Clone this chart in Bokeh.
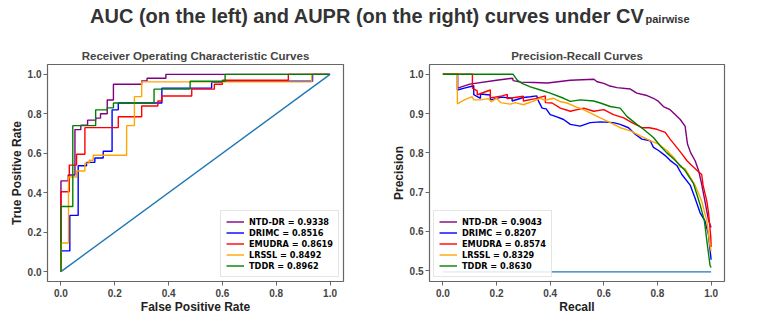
from bokeh.plotting import figure
from bokeh.models import (Legend, LegendItem, Range1d, FixedTicker,
                          PrintfTickFormatter, Label)
from bokeh.layouts import column, row
from bokeh.embed import file_html
from bokeh.resources import INLINE

# ---------------- data ----------------
methods = ["NTD-DR", "DRIMC", "EMUDRA", "LRSSL", "TDDR"]
colors = ["purple", "blue", "red", "orange", "green"]
roc_auc = ["0.9338", "0.8516", "0.8619", "0.8492", "0.8962"]
pr_aupr = ["0.9043", "0.8207", "0.8574", "0.8329", "0.8630"]

ticks_01 = [0.0, 0.2, 0.4, 0.6, 0.8, 1.0]
ticks_prec = [0.5, 0.6, 0.7, 0.8, 0.9, 1.0]

# ROC curves (step vertices)
fpr_ntddr = [0, 0, 0.027, 0.027, 0.052, 0.052, 0.074, 0.074, 0.099, 0.099, 0.129, 0.129,
             0.147, 0.147, 0.172, 0.172, 0.195, 0.195, 0.30, 0.30, 0.32, 0.32, 0.39, 0.39, 1.0]
tpr_ntddr = [0, 0.46, 0.46, 0.49, 0.49, 0.72, 0.72, 0.742, 0.742, 0.768, 0.768, 0.778,
             0.778, 0.80, 0.80, 0.87, 0.87, 0.95, 0.95, 0.967, 0.967, 0.98, 0.98, 1.0, 1.0]

fpr_drimc = [0, 0, 0.033, 0.033, 0.064, 0.064, 0.095, 0.095, 0.126, 0.126, 0.157, 0.157,
             0.19, 0.19, 0.213, 0.213, 0.375, 0.375, 0.56, 0.56, 0.60, 0.60, 0.935, 0.935, 1.0]
tpr_drimc = [0, 0.105, 0.105, 0.285, 0.285, 0.537, 0.537, 0.554, 0.554, 0.576, 0.576, 0.61,
             0.61, 0.82, 0.82, 0.855, 0.855, 0.93, 0.93, 0.96, 0.96, 0.965, 0.965, 1.0, 1.0]

fpr_emudra = [0, 0, 0.031, 0.031, 0.058, 0.058, 0.089, 0.089, 0.213, 0.213, 0.30, 0.30,
              0.36, 0.36, 0.375, 0.375, 0.486, 0.486, 0.57, 0.57, 0.60, 0.60, 0.845, 0.845, 1.0]
tpr_emudra = [0, 0.405, 0.405, 0.54, 0.54, 0.595, 0.595, 0.73, 0.73, 0.785, 0.785, 0.84,
              0.84, 0.865, 0.865, 0.89, 0.89, 0.925, 0.925, 0.95, 0.95, 0.97, 0.97, 1.0, 1.0]

fpr_lrssl = [0, 0, 0.028, 0.028, 0.058, 0.058, 0.089, 0.089, 0.105, 0.105, 0.12, 0.12,
             0.244, 0.244, 0.273, 0.273, 0.30, 0.30, 0.932, 0.932, 1.0]
tpr_lrssl = [0, 0.145, 0.145, 0.48, 0.48, 0.51, 0.51, 0.55, 0.55, 0.565, 0.565, 0.59,
             0.59, 0.74, 0.74, 0.887, 0.887, 0.962, 0.962, 1.0, 1.0]

fpr_tddr = [0, 0, 0.044, 0.044, 0.129, 0.129, 0.172, 0.172, 0.195, 0.195, 0.346, 0.346,
            0.48, 0.48, 0.61, 0.61, 1.0]
tpr_tddr = [0, 0.33, 0.33, 0.74, 0.74, 0.82, 0.82, 0.83, 0.83, 0.855, 0.855, 0.925,
            0.925, 0.965, 0.965, 1.0, 1.0]

diag_x = [0, 1]
diag_y = [0, 1]

# Precision-recall curves
rec_ntddr = [0, 0.055, 0.055, 0.10, 0.20, 0.26, 0.262, 0.29, 0.34, 0.39, 0.475, 0.563, 0.575,
             0.600, 0.619, 0.649, 0.699, 0.723, 0.761, 0.785, 0.804, 0.822, 0.847, 0.866,
             0.885, 0.903, 0.912, 0.924, 0.9405, 0.953, 0.965, 0.977, 0.99, 1.0]
prec_ntddr = [1.0, 1.0, 0.965, 0.975, 0.985, 0.99, 0.984, 0.98, 0.979, 0.978, 0.985, 0.9875,
              0.981, 0.977, 0.971, 0.966, 0.9625, 0.952, 0.946, 0.939, 0.931, 0.918, 0.91,
              0.8975, 0.885, 0.868, 0.8225, 0.80, 0.78, 0.756, 0.72, 0.677, 0.63, 0.61]

rec_drimc = [0, 0.054, 0.054, 0.08, 0.115, 0.115, 0.14, 0.14, 0.177, 0.177, 0.22, 0.258,
             0.258, 0.30, 0.326, 0.35, 0.357, 0.37, 0.385, 0.40, 0.42, 0.45, 0.475, 0.512,
             0.549, 0.587, 0.636, 0.661, 0.692, 0.717, 0.742, 0.773, 0.785, 0.804, 0.829,
             0.847, 0.872, 0.891, 0.922, 0.94, 0.959, 0.977, 0.99, 0.999, 1.0]
prec_drimc = [1.0, 1.0, 0.96, 0.965, 0.971, 0.948, 0.939, 0.95, 0.9475, 0.935, 0.942, 0.939,
              0.932, 0.941, 0.943, 0.945, 0.931, 0.914, 0.912, 0.8975, 0.893, 0.885, 0.8725,
              0.868, 0.877, 0.879, 0.877, 0.8725, 0.864, 0.8475, 0.835, 0.831, 0.814, 0.806,
              0.793, 0.781, 0.768, 0.745, 0.718, 0.685, 0.6475, 0.627, 0.593, 0.535, 0.528]

rec_emudra = [0, 0.11, 0.11, 0.128, 0.128, 0.177, 0.177, 0.215, 0.24, 0.24, 0.30, 0.30,
              0.345, 0.382, 0.382, 0.407, 0.438, 0.475, 0.525, 0.562, 0.60, 0.636, 0.674,
              0.705, 0.742, 0.77, 0.798, 0.829, 0.847, 0.872, 0.891, 0.91, 0.928, 0.947,
              0.965, 0.97, 0.984, 0.99, 0.999, 1.0]
prec_emudra = [1.0, 1.0, 0.965, 0.958, 0.948, 0.96, 0.94, 0.944, 0.949, 0.938, 0.944, 0.932,
               0.938, 0.945, 0.928, 0.927, 0.914, 0.906, 0.914, 0.906, 0.91, 0.8975, 0.889,
               0.877, 0.864, 0.864, 0.86, 0.852, 0.835, 0.814, 0.7975, 0.78, 0.768, 0.756,
               0.745, 0.718, 0.677, 0.65, 0.585, 0.56]

rec_lrssl = [0, 0.054, 0.054, 0.08, 0.109, 0.115, 0.14, 0.17, 0.18, 0.20, 0.215, 0.252,
             0.27, 0.30, 0.33, 0.364, 0.38, 0.413, 0.44, 0.463, 0.50, 0.512, 0.549, 0.587,
             0.624, 0.661, 0.699, 0.736, 0.773, 0.804, 0.835, 0.86, 0.885, 0.903, 0.94,
             0.965, 0.984, 0.996, 1.0]
prec_lrssl = [1.0, 1.0, 0.925, 0.935, 0.943, 0.935, 0.935, 0.938, 0.93, 0.939, 0.928, 0.924,
              0.928, 0.9225, 0.93, 0.939, 0.934, 0.939, 0.93, 0.927, 0.916, 0.914, 0.902,
              0.889, 0.877, 0.864, 0.856, 0.843, 0.831, 0.8225, 0.806, 0.789, 0.764, 0.76,
              0.718, 0.677, 0.627, 0.564, 0.55]

rec_tddr = [0, 0.262, 0.277, 0.295, 0.326, 0.364, 0.40, 0.45, 0.475, 0.512, 0.562, 0.587,
            0.624, 0.661, 0.686, 0.723, 0.748, 0.785, 0.81, 0.835, 0.86, 0.885, 0.903, 0.934,
            0.959, 0.975, 0.984, 0.996, 1.0]
prec_tddr = [1.0, 1.0, 0.985, 0.977, 0.968, 0.96, 0.952, 0.939, 0.931, 0.935, 0.932, 0.927,
             0.918, 0.914, 0.893, 0.8725, 0.86, 0.839, 0.818, 0.80, 0.785, 0.768, 0.755,
             0.7225, 0.668, 0.627, 0.577, 0.514, 0.508]

base_rec = [0, 1]
base_prec = [0.497, 0.497]

roc_x = [fpr_ntddr, fpr_drimc, fpr_emudra, fpr_lrssl, fpr_tddr]
roc_y = [tpr_ntddr, tpr_drimc, tpr_emudra, tpr_lrssl, tpr_tddr]
pr_x = [rec_ntddr, rec_drimc, rec_emudra, rec_lrssl, rec_tddr]
pr_y = [prec_ntddr, prec_drimc, prec_emudra, prec_lrssl, prec_tddr]

# ---------------- styling helpers ----------------
SANS = "Liberation Sans"
LW = 1.4


def make_fig(width, title, xr, yr, bl, br):
    p = figure(width=width, height=276, output_backend="svg", toolbar_location=None,
               x_range=Range1d(*xr), y_range=Range1d(*yr),
               min_border_left=bl, min_border_right=br, min_border_top=24,
               min_border_bottom=32, title=title)
    p.title.text_font = SANS
    p.title.text_font_size = "11.5px"
    p.title.text_font_style = "bold"
    p.title.text_color = "#444444"
    p.title.align = "center"
    p.title.standoff = 5
    p.grid.visible = False
    p.outline_line_color = "#666666"
    p.outline_line_width = 1.2
    p.outline_line_alpha = 1
    p.background_fill_color = "white"
    p.border_fill_color = "white"
    for ax in (p.xaxis[0], p.yaxis[0]):
        ax.axis_line_color = None
        ax.major_label_text_font = SANS
        ax.major_label_text_font_style = "bold"
        ax.major_label_text_font_size = "10px"
        ax.major_label_text_color = "#444444"
        ax.axis_label_text_font = SANS
        ax.axis_label_text_font_style = "bold"
        ax.axis_label_text_font_size = "12px"
        ax.axis_label_text_color = "#222222"
        ax.minor_tick_line_color = None
        ax.major_tick_in = 0
        ax.major_tick_out = 4
        ax.major_tick_line_color = "#666666"
        ax.formatter = PrintfTickFormatter(format="%.1f")
    p.xaxis[0].major_label_standoff = 3
    p.xaxis[0].axis_label_standoff = 0
    p.yaxis[0].major_label_standoff = 2
    p.yaxis[0].axis_label_standoff = 1
    return p


def make_legend(items, loc):
    lg = Legend(items=items, location=loc)
    lg.label_text_font = "DejaVu Sans"
    lg.label_text_font_style = "bold"
    lg.label_text_font_size = "8.2px"
    lg.label_text_color = "black"
    lg.label_height = 11
    lg.glyph_height = 11
    lg.glyph_width = 18
    lg.label_standoff = 5
    lg.spacing = 0
    lg.padding = 5
    lg.margin = 4
    lg.border_line_color = "#cccccc"
    lg.border_line_width = 1
    lg.background_fill_alpha = 0.85
    return lg


# ---------------- ROC ----------------
p1 = make_fig(380, "Receiver Operating Characteristic Curves",
              (-0.05, 1.05), (-0.05, 1.05), 47, 37)
p1.xaxis[0].ticker = FixedTicker(ticks=ticks_01)
p1.yaxis[0].ticker = FixedTicker(ticks=ticks_01)
p1.xaxis[0].axis_label = "False Positive Rate"
p1.yaxis[0].axis_label = "True Positive Rate"
items1 = []
for m, c, a, xs, ys in zip(methods, colors, roc_auc, roc_x, roc_y):
    r = p1.line(xs, ys, line_color=c, line_width=LW)
    items1.append(LegendItem(label=f"{m} = {a}", renderers=[r]))
p1.line(diag_x, diag_y, line_color="#1f77b4", line_width=LW)
p1.add_layout(make_legend(items1, "bottom_right"))

# ---------------- PR ----------------
p2 = make_fig(383, "Precision-Recall Curves",
              (-0.05, 1.05), (0.4725, 1.025), 49, 39)
p2.xaxis[0].ticker = FixedTicker(ticks=ticks_01)
p2.yaxis[0].ticker = FixedTicker(ticks=ticks_prec)
p2.xaxis[0].axis_label = "Recall"
p2.yaxis[0].axis_label = "Precision"
items2 = []
for m, c, a, xs, ys in zip(methods, colors, pr_aupr, pr_x, pr_y):
    r = p2.line(xs, ys, line_color=c, line_width=LW)
    items2.append(LegendItem(label=f"{m} = {a}", renderers=[r]))
p2.line(base_rec, base_prec, line_color="#1f77b4", line_width=LW)
p2.add_layout(make_legend(items2, "bottom_left"))

# ---------------- main title ----------------
t = figure(width=763, height=40, output_backend="svg", toolbar_location=None,
           x_range=Range1d(0, 763), y_range=Range1d(0, 40),
           x_axis_location=None, y_axis_location=None, min_border=0)
t.grid.visible = False
t.outline_line_color = None
t.background_fill_color = "white"
t.border_fill_color = "white"
t.add_layout(Label(x=644, y=25, text="AUC (on the left) and AUPR (on the right) curves under CV",
                   text_align="right", text_baseline="alphabetic",
                   text_font=SANS, text_font_style="bold", text_font_size="20px",
                   text_color="#333333"))
t.add_layout(Label(x=645, y=21.5, text="pairwise",
                   text_align="left", text_baseline="alphabetic",
                   text_font=SANS, text_font_style="bold", text_font_size="11px",
                   text_color="#333333"))

layout = column(t, row(p1, p2))
open("out.html", "w").write(file_html(layout, INLINE))
